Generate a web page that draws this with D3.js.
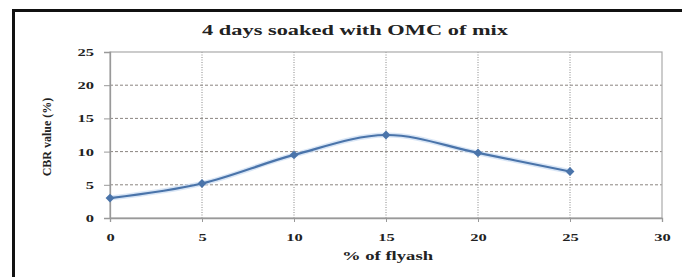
<!DOCTYPE html>
<html><head><meta charset="utf-8">
<script src="https://cdn.jsdelivr.net/npm/d3@7"></script>
<style>body{margin:0;background:#fff}svg{display:block}text{font-family:"Liberation Serif","Times New Roman",serif;font-weight:bold;fill:#222}</style>
</head><body>
<script>
const flyash = [0, 5, 10, 15, 20, 25];
const cbr = [3.0, 5.2, 9.5, 12.5, 9.8, 7.0];
const xTicks = [0, 5, 10, 15, 20, 25, 30];
const yTicks = [0, 5, 10, 15, 20, 25];
const title = "4 days soaked with OMC of mix";
const xTitle = "% of flyash";
const yTitle = "CBR value (%)";

const W = 682, H = 277;
const m = {left: 110, right: 662, top: 52, bottom: 218};
const svg = d3.select("body").append("svg").attr("width", W).attr("height", H);

// outer frame
svg.append("rect").attr("x", 13.5).attr("y", 10.5).attr("width", 720).attr("height", 320)
  .attr("fill", "none").attr("stroke", "#111").attr("stroke-width", 3);

const x = d3.scaleLinear().domain([0, 30]).range([m.left, m.right]);
const y = d3.scaleLinear().domain([0, 25]).range([m.bottom, m.top]);

// horizontal grid
svg.append("g").selectAll("line").data(yTicks.filter(d => d > 0 && d < 25)).join("line")
  .attr("x1", m.left).attr("x2", m.right).attr("y1", d => y(d)).attr("y2", d => y(d))
  .attr("stroke", "#8a8580").attr("stroke-dasharray", "3,2").attr("stroke-width", 1);
// vertical grid
svg.append("g").selectAll("line").data(xTicks.filter(d => d > 0 && d < 30)).join("line")
  .attr("x1", d => x(d)).attr("x2", d => x(d)).attr("y1", m.top).attr("y2", m.bottom)
  .attr("stroke", "#888").attr("stroke-dasharray", "1,1.5").attr("stroke-width", 1);

// plot border
svg.append("rect").attr("x", m.left).attr("y", m.top).attr("width", m.right - m.left).attr("height", m.bottom - m.top)
  .attr("fill", "none").attr("stroke", "#aaa").attr("stroke-width", 1.2);

// axes
const SX = 1.5;
const xa = svg.append("g").attr("transform", `translate(0,${m.bottom})`)
  .call(d3.axisBottom(x).tickValues(xTicks).tickSize(4).tickPadding(11));
const ya = svg.append("g").attr("transform", `translate(${m.left},0)`)
  .call(d3.axisLeft(y).tickValues(yTicks).tickSize(6).tickPadding(10));
[xa, ya].forEach(g => {
  g.select(".domain").attr("stroke", "#999").attr("stroke-width", 1.3);
  g.selectAll(".tick line").attr("stroke", "#999");
  g.selectAll("text").attr("font-size", 11).attr("font-family", "Liberation Serif").attr("font-weight", "bold").attr("fill", "#333");
});
xa.selectAll(".tick text").attr("transform", `scale(${SX},1)`);
ya.selectAll(".tick text").attr("x", 0).attr("transform", `translate(-16,0) scale(${SX},1)`);

// line
const pts = flyash.map((d, i) => [d, cbr[i]]);
const line = d3.line().x(d => x(d[0])).y(d => y(d[1])).curve(d3.curveCatmullRom.alpha(0.5));
svg.append("path").datum(pts).attr("d", line).attr("fill", "none")
  .attr("stroke", "#c9dcf2").attr("stroke-width", 5).attr("opacity", 0.7);
svg.append("path").datum(pts).attr("d", line).attr("fill", "none")
  .attr("stroke", "#4a74aa").attr("stroke-width", 2.2);
svg.append("g").selectAll("path").data(pts).join("path")
  .attr("transform", d => `translate(${x(d[0])},${y(d[1])})`)
  .attr("d", d3.symbol(d3.symbolDiamond2, 50)).attr("fill", "#4a74aa");

// titles
svg.append("text").attr("x", 202).attr("y", 35).attr("font-size", 15)
  .attr("textLength", 306).attr("lengthAdjust", "spacingAndGlyphs").text(title);
svg.append("text").attr("x", 342).attr("y", 260).attr("font-size", 12)
  .attr("textLength", 91).attr("lengthAdjust", "spacingAndGlyphs").text(xTitle);
svg.append("text").attr("transform", "translate(51,137) rotate(-90)").attr("text-anchor", "middle")
  .attr("font-size", 12).attr("font-weight", "normal").attr("fill", "#333").text(yTitle);
</script>
</body></html>
